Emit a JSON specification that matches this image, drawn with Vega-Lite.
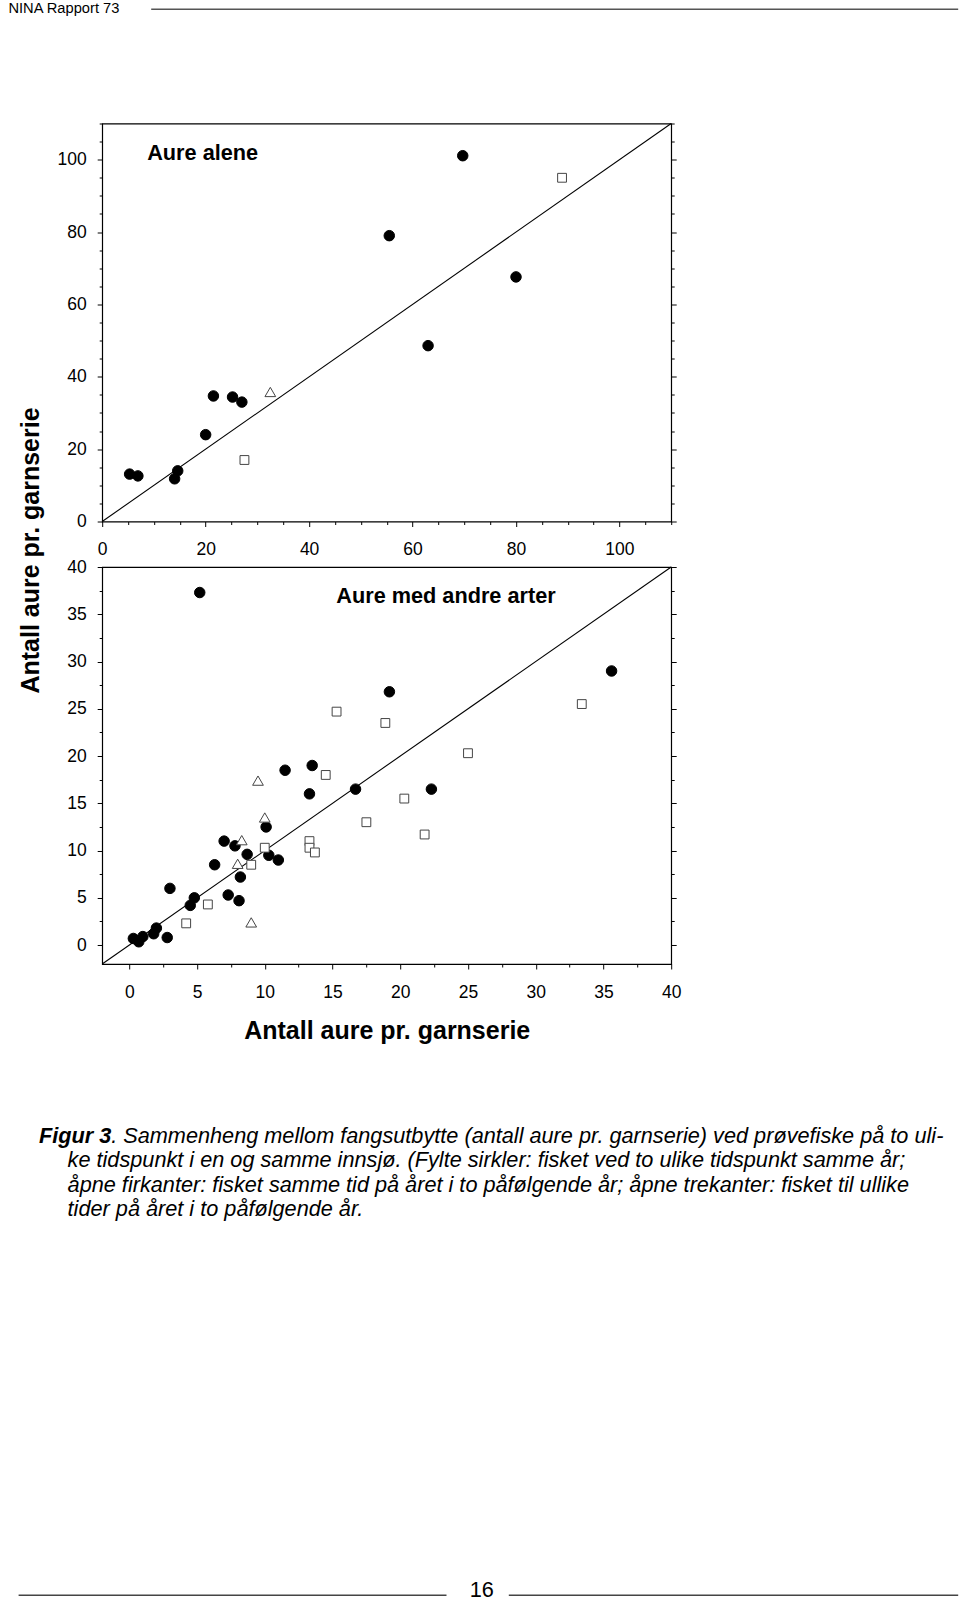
{
  "$schema": "https://vega.github.io/schema/vega-lite/v6.json",
  "padding": {"left": 8.2, "top": 0, "right": 0, "bottom": 0},
  "bounds": "flush",
  "spacing": 45.5,
  "config": {
    "font": "Liberation Sans",
    "view": {"stroke": null},
    "axis": {"labelFont": "Liberation Sans", "labelColor": "#000", "tickColor": "#000", "titleColor": "#000", "titleFont": "Liberation Sans"},
    "text": {"color": "#000", "font": "Liberation Sans"}
  },
  "datasets": {
    "alene": [
      {"x": 5.3, "y": 13.1, "kategori": "samme år"},
      {"x": 6.9, "y": 12.6, "kategori": "samme år"},
      {"x": 14.0, "y": 11.8, "kategori": "samme år"},
      {"x": 14.6, "y": 14.0, "kategori": "samme år"},
      {"x": 20.0, "y": 24.0, "kategori": "samme år"},
      {"x": 21.5, "y": 34.7, "kategori": "samme år"},
      {"x": 25.2, "y": 34.4, "kategori": "samme år"},
      {"x": 27.0, "y": 33.0, "kategori": "samme år"},
      {"x": 55.5, "y": 79.0, "kategori": "samme år"},
      {"x": 63.0, "y": 48.6, "kategori": "samme år"},
      {"x": 69.7, "y": 101.1, "kategori": "samme år"},
      {"x": 80.0, "y": 67.6, "kategori": "samme år"},
      {"x": 27.5, "y": 17.0, "kategori": "samme tid, påfølgende år"},
      {"x": 88.9, "y": 95.0, "kategori": "samme tid, påfølgende år"},
      {"x": 32.5, "y": 35.8, "kategori": "ulike tider, påfølgende år"}
    ],
    "andre": [
      {"x": 5.2, "y": 37.3, "kategori": "samme år"},
      {"x": 35.6, "y": 29.0, "kategori": "samme år"},
      {"x": 19.2, "y": 26.8, "kategori": "samme år"},
      {"x": 11.5, "y": 18.5, "kategori": "samme år"},
      {"x": 13.5, "y": 19.0, "kategori": "samme år"},
      {"x": 13.3, "y": 16.0, "kategori": "samme år"},
      {"x": 16.7, "y": 16.5, "kategori": "samme år"},
      {"x": 22.3, "y": 16.5, "kategori": "samme år"},
      {"x": 10.1, "y": 12.5, "kategori": "samme år"},
      {"x": 7.0, "y": 11.0, "kategori": "samme år"},
      {"x": 7.8, "y": 10.5, "kategori": "samme år"},
      {"x": 8.7, "y": 9.6, "kategori": "samme år"},
      {"x": 10.3, "y": 9.5, "kategori": "samme år"},
      {"x": 11.0, "y": 9.0, "kategori": "samme år"},
      {"x": 6.3, "y": 8.5, "kategori": "samme år"},
      {"x": 8.2, "y": 7.2, "kategori": "samme år"},
      {"x": 3.0, "y": 6.0, "kategori": "samme år"},
      {"x": 4.8, "y": 5.0, "kategori": "samme år"},
      {"x": 4.5, "y": 4.2, "kategori": "samme år"},
      {"x": 7.3, "y": 5.3, "kategori": "samme år"},
      {"x": 8.1, "y": 4.7, "kategori": "samme år"},
      {"x": 2.0, "y": 1.8, "kategori": "samme år"},
      {"x": 1.8, "y": 1.2, "kategori": "samme år"},
      {"x": 2.8, "y": 0.8, "kategori": "samme år"},
      {"x": 1.0, "y": 0.9, "kategori": "samme år"},
      {"x": 0.3, "y": 0.7, "kategori": "samme år"},
      {"x": 0.7, "y": 0.35, "kategori": "samme år"},
      {"x": 15.3, "y": 24.7, "kategori": "samme tid, påfølgende år"},
      {"x": 18.9, "y": 23.5, "kategori": "samme tid, påfølgende år"},
      {"x": 33.4, "y": 25.5, "kategori": "samme tid, påfølgende år"},
      {"x": 25.0, "y": 20.3, "kategori": "samme tid, påfølgende år"},
      {"x": 14.5, "y": 18.0, "kategori": "samme tid, påfølgende år"},
      {"x": 20.3, "y": 15.5, "kategori": "samme tid, påfølgende år"},
      {"x": 17.5, "y": 13.0, "kategori": "samme tid, påfølgende år"},
      {"x": 21.8, "y": 11.7, "kategori": "samme tid, påfølgende år"},
      {"x": 13.3, "y": 11.0, "kategori": "samme tid, påfølgende år"},
      {"x": 13.3, "y": 10.3, "kategori": "samme tid, påfølgende år"},
      {"x": 13.7, "y": 9.8, "kategori": "samme tid, påfølgende år"},
      {"x": 10.0, "y": 10.3, "kategori": "samme tid, påfølgende år"},
      {"x": 9.0, "y": 8.5, "kategori": "samme tid, påfølgende år"},
      {"x": 5.8, "y": 4.3, "kategori": "samme tid, påfølgende år"},
      {"x": 4.2, "y": 2.3, "kategori": "samme tid, påfølgende år"},
      {"x": 9.5, "y": 17.4, "kategori": "ulike tider, påfølgende år"},
      {"x": 10.0, "y": 13.5, "kategori": "ulike tider, påfølgende år"},
      {"x": 8.3, "y": 11.1, "kategori": "ulike tider, påfølgende år"},
      {"x": 8.0, "y": 8.6, "kategori": "ulike tider, påfølgende år"},
      {"x": 9.0, "y": 2.4, "kategori": "ulike tider, påfølgende år"}
    ]
  },
  "vconcat": [
    {
      "width": 569,
      "height": 78,
      "layer": [
        {
          "data": {"values": [{"etikett": "NINA Rapport 73"}]},
          "mark": {"type": "text", "align": "left", "baseline": "alphabetic", "fontSize": 14.7},
          "encoding": {
            "x": {"datum": 8.2, "type": "quantitative", "scale": {"domain": [102, 671], "nice": false, "zero": false}, "axis": null},
            "y": {"datum": 13.3, "type": "quantitative", "scale": {"domain": [0, 78], "reverse": true, "nice": false, "zero": false}, "axis": null},
            "text": {"field": "etikett"}
          }
        },
        {
          "data": {"values": [{}]},
          "mark": {"type": "rule", "color": "#555", "strokeWidth": 1.6},
          "encoding": {
            "x": {"datum": 151, "type": "quantitative", "scale": {"domain": [102, 671], "nice": false, "zero": false}, "axis": null},
            "x2": {"datum": 958},
            "y": {"datum": 9.2, "type": "quantitative", "scale": {"domain": [0, 78], "reverse": true, "nice": false, "zero": false}, "axis": null}
          }
        }
      ]
    },
    {
      "width": 569,
      "height": 398,
      "view": {"stroke": "#000", "strokeWidth": 1.2},
      "resolve": {"axis": {"x": "independent", "y": "independent"}},
      "layer": [
        {
          "data": {"values": [{}]},
          "mark": {"type": "rule", "color": "#000", "strokeWidth": 1.1},
          "encoding": {
            "x": {"datum": 0, "type": "quantitative", "scale": {"domain": [0, 110], "nice": false, "zero": false}, "axis": null},
            "x2": {"datum": 110},
            "y": {"datum": 0, "type": "quantitative", "scale": {"domain": [0, 110], "nice": false, "zero": false},
              "axis": {"orient": "right", "labels": false, "domain": false, "grid": false, "title": null,
                "values": [0,5,10,15,20,25,30,35,40,45,50,55,60,65,70,75,80,85,90,95,100,105,110],
                "tickSize": {"condition": {"test": "datum.value % 20 === 0", "value": 5}, "value": 3}, "tickWidth": 1}},
            "y2": {"datum": 110}
          }
        },
        {
          "data": {"name": "alene"},
          "mark": {"type": "point", "opacity": 1, "strokeWidth": 1},
          "encoding": {
            "x": {"field": "x", "type": "quantitative", "scale": {"domain": [0, 110], "nice": false, "zero": false},
              "axis": {"orient": "bottom", "values": [0,5,10,15,20,25,30,35,40,45,50,55,60,65,70,75,80,85,90,95,100,105,110],
                "labelExpr": "datum.value % 20 === 0 ? datum.label : ''", "labelOverlap": false, "labelFlush": false, "labelBound": false,
                "labelFontSize": 17.5, "labelBaseline": "middle", "labelPadding": 22.5,
                "tickSize": {"condition": {"test": "datum.value % 20 === 0", "value": 5}, "value": 3}, "tickWidth": 1,
                "domain": false, "grid": false, "title": null}},
            "y": {"field": "y", "type": "quantitative", "scale": {"domain": [0, 110], "nice": false, "zero": false},
              "axis": {"orient": "left", "values": [0,5,10,15,20,25,30,35,40,45,50,55,60,65,70,75,80,85,90,95,100,105,110],
                "labelExpr": "datum.value % 20 === 0 ? datum.label : ''", "labelOverlap": false, "labelFlush": false, "labelBound": false,
                "labelFontSize": 17.5, "labelPadding": 11,
                "tickSize": {"condition": {"test": "datum.value % 20 === 0", "value": 5}, "value": 3}, "tickWidth": 1,
                "domain": false, "grid": false, "title": null}},
            "shape": {"field": "kategori", "type": "nominal", "scale": {"domain": ["samme år", "samme tid, påfølgende år", "ulike tider, påfølgende år"], "range": ["circle", "square", "triangle-up"]}, "legend": null},
            "fill": {"field": "kategori", "type": "nominal", "scale": {"domain": ["samme år", "samme tid, påfølgende år", "ulike tider, påfølgende år"], "range": ["#000", "#fff", "#fff"]}, "legend": null},
            "stroke": {"field": "kategori", "type": "nominal", "scale": {"domain": ["samme år", "samme tid, påfølgende år", "ulike tider, påfølgende år"], "range": ["#000", "#444", "#444"]}, "legend": null},
            "size": {"field": "kategori", "type": "nominal", "scale": {"type": "ordinal", "domain": ["samme år", "samme tid, påfølgende år", "ulike tider, påfølgende år"], "range": [110, 78, 115]}, "legend": null}
          }
        },
        {
          "data": {"values": [{"etikett": "Aure alene"}]},
          "mark": {"type": "text", "align": "left", "baseline": "middle", "fontSize": 21.7, "fontWeight": "bold"},
          "encoding": {
            "x": {"datum": 8.7, "type": "quantitative", "axis": null},
            "y": {"datum": 101.9, "type": "quantitative", "axis": null},
            "text": {"field": "etikett"}
          }
        }
      ]
    },
    {
      "width": 569,
      "height": 397,
      "view": {"stroke": "#000", "strokeWidth": 1.2},
      "resolve": {"axis": {"x": "independent", "y": "independent"}},
      "layer": [
        {
          "data": {"values": [{}]},
          "mark": {"type": "rule", "color": "#000", "strokeWidth": 1.1},
          "encoding": {
            "x": {"datum": -2, "type": "quantitative", "scale": {"domain": [-2, 40], "nice": false, "zero": false}, "axis": null},
            "x2": {"datum": 40},
            "y": {"datum": -2, "type": "quantitative", "scale": {"domain": [-2, 40], "nice": false, "zero": false},
              "axis": {"orient": "right", "labels": false, "domain": false, "grid": false, "title": null,
                "values": [0,2.5,5,7.5,10,12.5,15,17.5,20,22.5,25,27.5,30,32.5,35,37.5,40],
                "tickSize": {"condition": {"test": "datum.value % 5 === 0", "value": 5}, "value": 3}, "tickWidth": 1}},
            "y2": {"datum": 40}
          }
        },
        {
          "data": {"name": "andre"},
          "mark": {"type": "point", "opacity": 1, "strokeWidth": 1},
          "encoding": {
            "x": {"field": "x", "type": "quantitative", "scale": {"domain": [-2, 40], "nice": false, "zero": false},
              "axis": {"orient": "bottom", "values": [0,2.5,5,7.5,10,12.5,15,17.5,20,22.5,25,27.5,30,32.5,35,37.5,40],
                "labelExpr": "datum.value % 5 === 0 ? datum.label : ''", "labelOverlap": false, "labelFlush": false, "labelBound": false,
                "labelFontSize": 17.5, "labelBaseline": "middle", "labelPadding": 24,
                "tickSize": {"condition": {"test": "datum.value % 5 === 0", "value": 5}, "value": 3}, "tickWidth": 1,
                "domain": false, "grid": false,
                "title": "Antall aure pr. garnserie", "titleFontSize": 25, "titleFontWeight": "bold", "titleBaseline": "alphabetic", "titleY": 74.3}},
            "y": {"field": "y", "type": "quantitative", "scale": {"domain": [-2, 40], "nice": false, "zero": false},
              "axis": {"orient": "left", "values": [0,2.5,5,7.5,10,12.5,15,17.5,20,22.5,25,27.5,30,32.5,35,37.5,40],
                "labelExpr": "datum.value % 5 === 0 ? datum.label : ''", "labelOverlap": false, "labelFlush": false, "labelBound": false,
                "labelFontSize": 17.5, "labelPadding": 11,
                "tickSize": {"condition": {"test": "datum.value % 5 === 0", "value": 5}, "value": 3}, "tickWidth": 1,
                "domain": false, "grid": false,
                "title": "Antall aure pr. garnserie", "titleFontSize": 25, "titleFontWeight": "bold", "titleAngle": 270,
                "titleBaseline": "alphabetic", "titleAlign": "center", "titleX": -63.7, "titleY": -17}},
            "shape": {"field": "kategori", "type": "nominal", "scale": {"domain": ["samme år", "samme tid, påfølgende år", "ulike tider, påfølgende år"], "range": ["circle", "square", "triangle-up"]}, "legend": null},
            "fill": {"field": "kategori", "type": "nominal", "scale": {"domain": ["samme år", "samme tid, påfølgende år", "ulike tider, påfølgende år"], "range": ["#000", "#fff", "#fff"]}, "legend": null},
            "stroke": {"field": "kategori", "type": "nominal", "scale": {"domain": ["samme år", "samme tid, påfølgende år", "ulike tider, påfølgende år"], "range": ["#000", "#444", "#444"]}, "legend": null},
            "size": {"field": "kategori", "type": "nominal", "scale": {"type": "ordinal", "domain": ["samme år", "samme tid, påfølgende år", "ulike tider, påfølgende år"], "range": [110, 78, 115]}, "legend": null}
          }
        },
        {
          "data": {"values": [{"etikett": "Aure med andre arter"}]},
          "mark": {"type": "text", "align": "left", "baseline": "middle", "fontSize": 21.7, "fontWeight": "bold"},
          "encoding": {
            "x": {"datum": 15.28, "type": "quantitative", "axis": null},
            "y": {"datum": 36.9, "type": "quantitative", "axis": null},
            "text": {"field": "etikett"}
          }
        }
      ]
    },
    {
      "width": 569,
      "height": 505,
      "layer": [
        {
          "data": {"values": [{"tekst": "Figur 3"}]},
          "mark": {"type": "text", "align": "right", "baseline": "alphabetic", "fontSize": 21.7, "fontStyle": "italic", "fontWeight": "bold"},
          "encoding": {
            "x": {"datum": 111, "type": "quantitative", "scale": {"domain": [102, 671], "nice": false, "zero": false}, "axis": null},
            "y": {"datum": 1142.7, "type": "quantitative", "scale": {"domain": [1009.5, 1514.5], "reverse": true, "nice": false, "zero": false}, "axis": null},
            "text": {"field": "tekst"}
          }
        },
        {
          "data": {"values": [{"tekst": ". Sammenheng mellom fangsutbytte (antall aure pr. garnserie) ved prøvefiske på to uli-"}]},
          "mark": {"type": "text", "align": "left", "baseline": "alphabetic", "fontSize": 21.7, "fontStyle": "italic"},
          "encoding": {
            "x": {"datum": 111, "type": "quantitative", "scale": {"domain": [102, 671], "nice": false, "zero": false}, "axis": null},
            "y": {"datum": 1142.7, "type": "quantitative", "scale": {"domain": [1009.5, 1514.5], "reverse": true, "nice": false, "zero": false}, "axis": null},
            "text": {"field": "tekst"}
          }
        },
        {
          "data": {"values": [{"tekst": "ke tidspunkt i en og samme innsjø. (Fylte sirkler: fisket ved to ulike tidspunkt samme år;"}]},
          "mark": {"type": "text", "align": "left", "baseline": "alphabetic", "fontSize": 21.7, "fontStyle": "italic"},
          "encoding": {
            "x": {"datum": 67.4, "type": "quantitative", "scale": {"domain": [102, 671], "nice": false, "zero": false}, "axis": null},
            "y": {"datum": 1167.2, "type": "quantitative", "scale": {"domain": [1009.5, 1514.5], "reverse": true, "nice": false, "zero": false}, "axis": null},
            "text": {"field": "tekst"}
          }
        },
        {
          "data": {"values": [{"tekst": "åpne firkanter: fisket samme tid på året i to påfølgende år; åpne trekanter: fisket til ullike"}]},
          "mark": {"type": "text", "align": "left", "baseline": "alphabetic", "fontSize": 21.7, "fontStyle": "italic"},
          "encoding": {
            "x": {"datum": 67.4, "type": "quantitative", "scale": {"domain": [102, 671], "nice": false, "zero": false}, "axis": null},
            "y": {"datum": 1191.7, "type": "quantitative", "scale": {"domain": [1009.5, 1514.5], "reverse": true, "nice": false, "zero": false}, "axis": null},
            "text": {"field": "tekst"}
          }
        },
        {
          "data": {"values": [{"tekst": "tider på året i to påfølgende år."}]},
          "mark": {"type": "text", "align": "left", "baseline": "alphabetic", "fontSize": 21.7, "fontStyle": "italic"},
          "encoding": {
            "x": {"datum": 67.4, "type": "quantitative", "scale": {"domain": [102, 671], "nice": false, "zero": false}, "axis": null},
            "y": {"datum": 1216.2, "type": "quantitative", "scale": {"domain": [1009.5, 1514.5], "reverse": true, "nice": false, "zero": false}, "axis": null},
            "text": {"field": "tekst"}
          }
        }
      ]
    },
    {
      "width": 569,
      "height": 40,
      "layer": [
        {
          "data": {"values": [{}]},
          "mark": {"type": "rule", "color": "#444", "strokeWidth": 1.6},
          "encoding": {
            "x": {"datum": 18.4, "type": "quantitative", "scale": {"domain": [102, 671], "nice": false, "zero": false}, "axis": null},
            "x2": {"datum": 446.3},
            "y": {"datum": 1595.3, "type": "quantitative", "scale": {"domain": [1560, 1600], "reverse": true, "nice": false, "zero": false}, "axis": null}
          }
        },
        {
          "data": {"values": [{}]},
          "mark": {"type": "rule", "color": "#444", "strokeWidth": 1.6},
          "encoding": {
            "x": {"datum": 508.6, "type": "quantitative", "scale": {"domain": [102, 671], "nice": false, "zero": false}, "axis": null},
            "x2": {"datum": 958},
            "y": {"datum": 1595.3, "type": "quantitative", "scale": {"domain": [1560, 1600], "reverse": true, "nice": false, "zero": false}, "axis": null}
          }
        },
        {
          "data": {"values": [{"side": "16"}]},
          "mark": {"type": "text", "align": "center", "baseline": "alphabetic", "fontSize": 21.7},
          "encoding": {
            "x": {"datum": 481.5, "type": "quantitative", "scale": {"domain": [102, 671], "nice": false, "zero": false}, "axis": null},
            "y": {"datum": 1597, "type": "quantitative", "scale": {"domain": [1560, 1600], "reverse": true, "nice": false, "zero": false}, "axis": null},
            "text": {"field": "side"}
          }
        }
      ]
    }
  ]
}
